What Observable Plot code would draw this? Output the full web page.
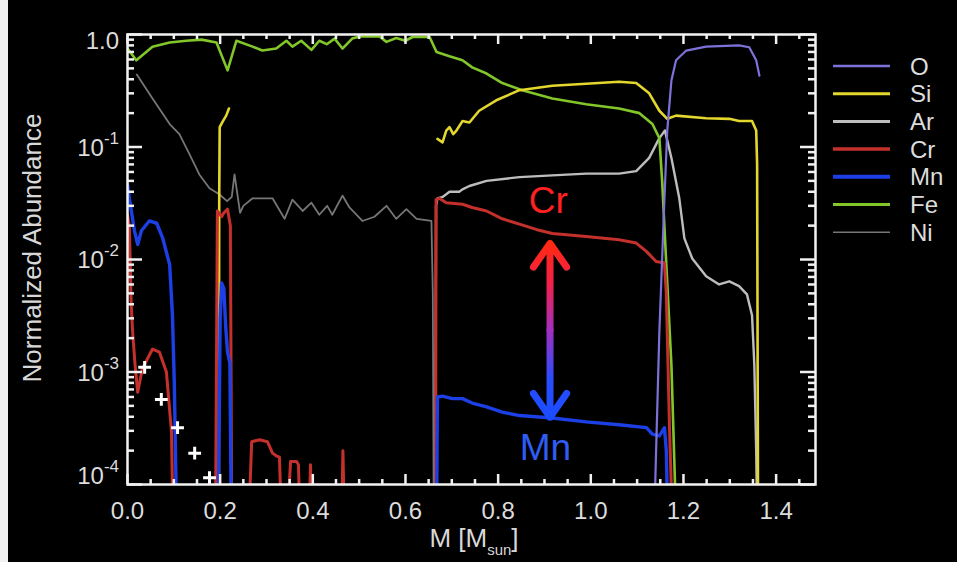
<!DOCTYPE html>
<html><head><meta charset="utf-8">
<script src="https://cdn.jsdelivr.net/npm/d3@7"></script>
<script src="https://cdn.jsdelivr.net/npm/@observablehq/plot@0.6"></script>
<style>
html,body{margin:0;padding:0;background:#000;}
#wrap{position:relative;width:957px;height:562px;background:#000;overflow:hidden;font-family:"Liberation Sans",Arial,sans-serif;}
#strip{position:absolute;left:0;top:0;width:8px;height:562px;background:#f1f1f1;}
#chart{position:absolute;left:0;top:0;}
#legend{position:absolute;left:0;top:0;}
</style></head><body>
<div id="wrap"><div id="chart"></div><svg id="legend" width="957" height="562"></svg><div id="strip"></div></div>
<script>
// ---- data: [mass coordinate M (Msun), normalized abundance] ----
const elements = ["O", "Si", "Ar", "Cr", "Mn", "Fe", "Ni"];
const colors = ["#7d72da", "#e3d62c", "#bdbdbd", "#c4302b", "#1c3fe6", "#82c62a", "#767676"];
const widths = [2.2, 2.6, 2.4, 3, 3.4, 2.6, 1.8];
const legendWidths = [2.5, 3, 3, 3.5, 4, 3, 1.5];

const O = [
  [[1.137,5e-5],[1.148,0.0023],[1.159,0.035],[1.165,0.14],[1.174,0.39],[1.184,0.59],[1.206,0.72],[1.249,0.78],[1.320,0.80],[1.342,0.77],[1.357,0.59],[1.364,0.43]]
];
const Si = [
  [[0.197,5e-5],[0.198,0.038],[0.199,0.15],[0.206,0.17],[0.213,0.19],[0.219,0.22]],
  [[0.669,0.118],[0.680,0.11],[0.688,0.14],[0.695,0.15],[0.703,0.13],[0.710,0.14],[0.723,0.17],[0.738,0.165],[0.759,0.21],[0.796,0.26],[0.846,0.32],[0.917,0.35],[0.990,0.365],[1.061,0.38],[1.098,0.37],[1.126,0.30],[1.148,0.21],[1.165,0.178],[1.184,0.19],[1.249,0.18],[1.299,0.178],[1.320,0.17],[1.348,0.17],[1.357,0.14],[1.359,0.07],[1.361,5e-5]]
];
const Ar = [
  [[0.664,5e-5],[0.666,0.030],[0.669,0.035],[0.680,0.036],[0.688,0.038],[0.695,0.040],[0.716,0.040],[0.723,0.042],[0.738,0.045],[0.775,0.050],[0.846,0.054],[0.917,0.056],[0.990,0.058],[1.061,0.058],[1.098,0.061],[1.126,0.080],[1.148,0.12],[1.160,0.14],[1.174,0.08],[1.191,0.035],[1.202,0.0154],[1.219,0.0102],[1.249,0.0071],[1.277,0.0060],[1.299,0.0064],[1.320,0.0058],[1.337,0.0049],[1.348,0.0032],[1.353,0.00115],[1.357,2.0e-4],[1.359,5e-5]]
];
const Cr = [
  [[0,0.025],[0.004,0.02],[0.008,0.004],[0.011,0.0023],[0.016,0.0012],[0.022,6.6e-4],[0.032,1.07e-3],[0.054,1.6e-3],[0.069,1.5e-3],[0.084,1.0e-3],[0.095,2.9e-4],[0.098,5e-5]],
  [[0.190,5e-5],[0.194,0.027],[0.203,0.024],[0.208,0.026],[0.216,0.028],[0.222,0.020],[0.225,5e-5]],
  [[0.262,5e-5],[0.268,2.4e-4],[0.285,2.5e-4],[0.302,2.4e-4],[0.313,1.9e-4],[0.321,1.8e-4],[0.328,1.75e-4],[0.332,5e-5]],
  [[0.345,5e-5],[0.352,1.6e-4],[0.365,1.6e-4],[0.369,1.5e-4],[0.372,5e-5]],
  [[0.392,5e-5],[0.395,1.5e-4],[0.398,5e-5]],
  [[0.462,5e-5],[0.465,2.0e-4],[0.468,5e-5]],
  [[0.665,5e-5],[0.666,0.034],[0.673,0.035],[0.688,0.032],[0.723,0.031],[0.744,0.029],[0.775,0.027],[0.809,0.023],[0.846,0.0206],[0.882,0.0185],[0.917,0.017],[0.990,0.016],[1.061,0.015],[1.098,0.014],[1.120,0.0118],[1.141,0.0096],[1.159,0.0093],[1.163,0.005],[1.170,3e-4],[1.176,5e-5]]
];
const Mn = [
  [[0,0.047],[0.004,0.035],[0.015,0.018],[0.022,0.0136],[0.030,0.018],[0.047,0.022],[0.063,0.021],[0.076,0.0155],[0.091,0.009],[0.097,0.0032],[0.101,8.1e-4],[0.106,5e-5]],
  [[0.196,5e-5],[0.200,0.003],[0.203,0.0062],[0.208,0.0055],[0.212,0.0025],[0.216,0.0015],[0.221,0.0012],[0.224,5e-5]],
  [[0.667,5e-5],[0.669,6.0e-4],[0.680,6.1e-4],[0.701,5.8e-4],[0.723,5.8e-4],[0.744,5.3e-4],[0.775,4.9e-4],[0.809,4.4e-4],[0.846,4.1e-4],[0.917,3.9e-4],[0.990,3.6e-4],[1.061,3.4e-4],[1.120,3.2e-4],[1.133,2.8e-4],[1.148,2.7e-4],[1.159,3.2e-4],[1.163,2.0e-4],[1.166,5e-5]]
];
const Fe = [
  [[0,0.75],[0.019,0.59],[0.054,0.78],[0.091,0.85],[0.127,0.88],[0.160,0.90],[0.192,0.85],[0.216,0.48],[0.235,0.88],[0.270,0.78],[0.291,0.72],[0.321,0.75],[0.343,0.88],[0.356,0.78],[0.375,0.88],[0.397,0.73],[0.414,0.88],[0.430,0.82],[0.447,0.92],[0.464,0.75],[0.485,0.92],[0.501,0.96],[0.544,0.96],[0.559,0.86],[0.580,0.93],[0.600,0.88],[0.615,0.95],[0.652,0.95],[0.667,0.70],[0.695,0.64],[0.723,0.59],[0.744,0.51],[0.775,0.45],[0.809,0.37],[0.852,0.32],[0.917,0.27],[0.990,0.24],[1.061,0.22],[1.105,0.20],[1.133,0.16],[1.148,0.12],[1.154,0.05],[1.163,0.009],[1.174,0.00115],[1.184,5e-5]]
];
const Ni = [
  [[0.020,0.44],[0.054,0.27],[0.091,0.16],[0.112,0.13],[0.134,0.086],[0.155,0.057],[0.177,0.043],[0.198,0.038],[0.215,0.033],[0.225,0.036],[0.231,0.057],[0.243,0.026],[0.250,0.030],[0.270,0.035],[0.313,0.035],[0.339,0.023],[0.356,0.034],[0.378,0.027],[0.397,0.032],[0.414,0.025],[0.431,0.030],[0.442,0.025],[0.464,0.037],[0.479,0.029],[0.507,0.022],[0.533,0.024],[0.559,0.030],[0.580,0.023],[0.602,0.028],[0.624,0.023],[0.656,0.022],[0.659,0.005],[0.661,5e-5]]
];
const observed = [[0.037,1.1e-3],[0.073,5.7e-4],[0.108,3.2e-4],[0.145,1.9e-4],[0.177,1.15e-4]];

const xMajor = [0, 0.2, 0.4, 0.6, 0.8, 1.0, 1.2, 1.4];
const yExponents = [-4, -3, -2, -1, 0];
const notes = [{label: "Cr", m: 0.908, v: 0.033, color: "#ff2020"}, {label: "Mn", m: 0.902, v: 2.1e-4, color: "#2f5cf2"}];
const ratioArrow = {m: 0.912, top: 0.0139, bottom: 3.97e-4};

// ---- derived tables ----
const series = {O, Si, Ar, Cr, Mn, Fe, Ni};
const drawOrder = ["Ni", "Ar", "Fe", "Si", "Cr", "Mn", "O"];
const rows = drawOrder.flatMap(el => series[el].flatMap((seg, i) => seg.map(([m, v]) => ({el, seg: el + i, m, v}))));
const xMinor = d3.range(0, 1.4801, 0.05).filter(v => Math.abs(v / 0.2 - Math.round(v / 0.2)) > 1e-6);
const yMajor = yExponents.map(e => 10 ** e);
const yMinor = yExponents.slice(0, -1).flatMap(e => d3.range(2, 10).map(k => k * 10 ** e));
const arrowRows = [{m: ratioArrow.m, mid: Math.sqrt(ratioArrow.top * ratioArrow.bottom), end: ratioArrow.top},
                   {m: ratioArrow.m, mid: Math.sqrt(ratioArrow.top * ratioArrow.bottom), end: ratioArrow.bottom}];

const W = 957, H = 562, mL = 127, mR = 142, mT = 34, mB = 78;
const FW = W - mL - mR, FH = H - mT - mB;   // frame size in px
const tk = {stroke: "#f0f0f0", strokeWidth: 2.5};

const lineMarks = drawOrder.map(el => {
  const i = elements.indexOf(el);
  return Plot.line(rows.filter(r => r.el === el), {x: "m", y: "v", z: "seg", stroke: colors[i], strokeWidth: widths[i], strokeLinejoin: "round", clip: true});
});

const plot = Plot.plot({
  width: W, height: H,
  marginLeft: mL, marginRight: mR, marginTop: mT, marginBottom: mB,
  style: {background: "transparent", color: "#e2e2e2", fontFamily: "'Liberation Sans', Arial, sans-serif", overflow: "visible"},
  x: {domain: [0, 1.485], label: null, axis: null},
  y: {type: "log", domain: [1e-4, 1], label: null, axis: null},
  marks: [
    ...lineMarks,
    Plot.dot(observed, {x: d => d[0], y: d => d[1], symbol: "plus", r: 4.2, stroke: "#ffffff", strokeWidth: 3, fill: "none"}),
    Plot.text(notes.slice(0, 1), {x: "m", y: "v", text: "label", fill: notes[0].color, fontSize: 37}),
    Plot.text(notes.slice(1), {x: "m", y: "v", text: "label", fill: notes[1].color, fontSize: 37}),
    Plot.arrow(arrowRows, {x1: "m", y1: "mid", x2: "m", y2: "end", stroke: "url(#crmn)", strokeWidth: 7, headLength: 24, headAngle: 70, strokeLinecap: "round", strokeLinejoin: "round"}),
    // inward frame ticks (bottom, top, left, right)
    Plot.tickX(xMinor, {x: d => d, insetTop: FH - 5, ...tk}),
    Plot.tickX(xMajor, {x: d => d, insetTop: FH - 10, ...tk}),
    Plot.tickX(xMinor, {x: d => d, insetBottom: FH - 5, ...tk}),
    Plot.tickX(xMajor, {x: d => d, insetBottom: FH - 10, ...tk}),
    Plot.tickY(yMinor, {y: d => d, insetRight: FW - 7, ...tk}),
    Plot.tickY(yMajor, {y: d => d, insetRight: FW - 15, ...tk}),
    Plot.tickY(yMinor, {y: d => d, insetLeft: FW - 7, ...tk}),
    Plot.tickY(yMajor, {y: d => d, insetLeft: FW - 15, ...tk}),
    Plot.axisX(xMajor, {anchor: "bottom", tickSize: 0, tickPadding: 17, fontSize: 24, fill: "#dcdcdc", tickFormat: d => d.toFixed(1), label: null}),
    Plot.frame({stroke: "#f2f2f2", strokeWidth: 2.5})
  ]
});
document.getElementById("chart").appendChild(plot);

const xs = plot.scale("x"), ys = plot.scale("y");
const svg = d3.select(plot);

// gradient for the Cr/Mn arrow
const defs = svg.insert("defs", ":first-child");
const grad = defs.append("linearGradient").attr("id", "crmn").attr("gradientUnits", "userSpaceOnUse")
  .attr("x1", xs.apply(ratioArrow.m)).attr("x2", xs.apply(ratioArrow.m))
  .attr("y1", ys.apply(ratioArrow.top)).attr("y2", ys.apply(ratioArrow.bottom));
[[0, "#ff2a12"], [0.22, "#f52045"], [0.5, "#a22fc0"], [0.78, "#2a4cff"], [1, "#1a4dff"]]
  .forEach(([o, c]) => grad.append("stop").attr("offset", o).attr("stop-color", c));
svg.selectAll('g[aria-label="arrow"]').attr("stroke", "url(#crmn)");

// y tick labels with superscript exponents
const gy = svg.append("g").attr("font-size", 24).attr("fill", "#dcdcdc").attr("text-anchor", "end");
yExponents.forEach(e => {
  const y = ys.apply(10 ** e) + 9 + (e === 0 ? 6 : e === -4 ? -9 : 0);
  const t = gy.append("text").attr("x", 119).attr("y", y);
  if (e === 0) t.text("1.0");
  else {
    t.append("tspan").text("10");
    t.append("tspan").attr("dy", -12).attr("font-size", 17).text(String(e));
  }
});
// axis titles
svg.append("text").attr("transform", "translate(41,248) rotate(-90)").attr("text-anchor", "middle")
  .attr("font-size", 26).attr("fill", "#d8d8d8").text("Normalized Abundance");
const xt = svg.append("text").attr("x", 474).attr("y", 547).attr("text-anchor", "middle").attr("font-size", 26).attr("fill", "#d8d8d8");
xt.append("tspan").text("M [M");
xt.append("tspan").attr("font-size", 15).attr("dy", 8).text("sun");
xt.append("tspan").attr("dy", -8).text("]");

// legend
const leg = d3.select("#legend").attr("font-family", "'Liberation Sans', Arial, sans-serif");
elements.forEach((el, i) => {
  const y = 66 + i * 27.7;
  leg.append("line").attr("x1", 833).attr("x2", 890).attr("y1", y).attr("y2", y)
    .attr("stroke", colors[i]).attr("stroke-width", legendWidths[i]);
  leg.append("text").attr("x", 910).attr("y", y).attr("dy", "0.36em").attr("font-size", 24)
    .attr("fill", "#dcdcdc").text(el);
});
</script></body></html>
